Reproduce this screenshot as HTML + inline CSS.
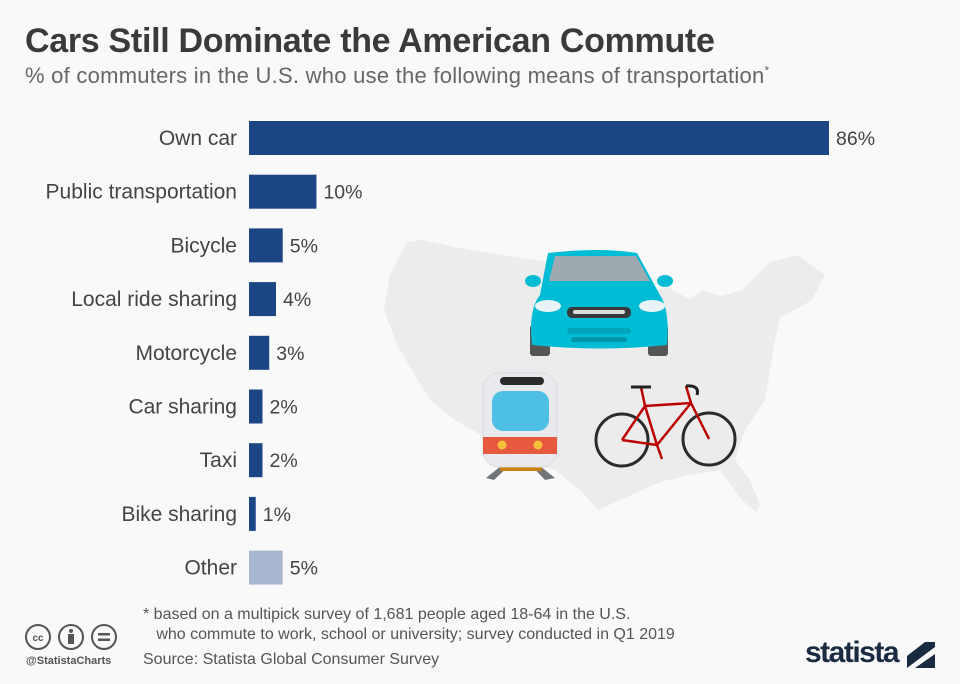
<!DOCTYPE html>
<html><head><meta charset="utf-8"><style>
body{margin:0;width:960px;height:684px;background:#f9f9f9;font-family:"Liberation Sans",sans-serif;overflow:hidden;position:relative}
#title{position:absolute;left:25px;top:22px;font-size:34px;font-weight:bold;color:#3a3a3a;margin:0;letter-spacing:-0.3px;white-space:nowrap}
#sub{position:absolute;left:25px;top:63px;font-size:22px;color:#666;white-space:nowrap;letter-spacing:0.25px}
.t{position:absolute;color:#444;white-space:nowrap}
</style></head><body>
<h1 id="title">Cars Still Dominate the American Commute</h1>
<div id="sub">% of commuters in the U.S. who use the following means of transportation<sup style="font-size:12px">*</sup></div>
<svg id="chart" width="960" height="684" style="position:absolute;left:0;top:0">
<g>
<path fill="#ececec" d="M407,242 L421,240 L470,250 L555,263 L600,270 L640,290 L670,288 L690,300 L702,290 L722,296 L742,290 L770,262 L798,255 L825,275 L812,300 L780,318 L775,340 L770,370 L765,400 L745,430 L735,460 L750,480 L760,505 L756,512 L742,500 L720,470 L690,475 L660,482 L620,500 L598,510 L580,490 L555,470 L520,460 L490,440 L455,420 L430,400 L397,345 L384,310 L390,275 Z"/>
<g>
<rect x="530" y="325" width="20" height="31" rx="3" fill="#555"/>
<rect x="648" y="325" width="20" height="31" rx="3" fill="#555"/>
<ellipse cx="533" cy="281" rx="8" ry="6" fill="#00bcd4"/><ellipse cx="665" cy="281" rx="8" ry="6" fill="#00bcd4"/>
<path d="M548,253 Q600,247 637,253 L660,295 Q670,310 667,345 Q600,352 532,345 Q528,310 540,295 Z" fill="#00bcd4"/>
<path d="M555,256 L636,256 L650,281 L549,281 Z" fill="#9fa9b0"/>
<ellipse cx="548" cy="306" rx="13" ry="6" fill="#e8f4f7"/><ellipse cx="652" cy="306" rx="13" ry="6" fill="#e8f4f7"/>
<rect x="567" y="307" width="64" height="11" rx="5" fill="#3a3a3a"/><rect x="573" y="310" width="52" height="4" rx="2" fill="#ddd"/>
<rect x="567" y="328" width="64" height="6" rx="3" fill="#00a5bb"/><rect x="571" y="337" width="56" height="5" rx="2" fill="#0097ab"/>
</g>
<g>
<path d="M486,478 L506,462 L513,462 L494,480 Z M555,478 L535,462 L528,462 L545,480 Z" fill="#70757c"/>
<rect x="500" y="467" width="42" height="4" fill="#c9820f"/>
<rect x="483" y="373" width="74" height="94" rx="16" fill="#e8eaee" stroke="#d6d9de"/>
<rect x="500" y="377" width="44" height="8" rx="4" fill="#2b2b2b"/>
<rect x="492" y="391" width="57" height="40" rx="11" fill="#4ec0e6"/>
<rect x="483" y="437" width="74" height="17" fill="#e85a40"/>
<circle cx="502" cy="445" r="4.5" fill="#f5c13b"/><circle cx="538" cy="445" r="4.5" fill="#f5c13b"/>
</g>
<g fill="none">
<circle cx="622" cy="440" r="26" stroke="#2b2b2b" stroke-width="3"/>
<circle cx="709" cy="439" r="26" stroke="#2b2b2b" stroke-width="3"/>
<path d="M622,440 L645,406 L691,403 L709,439 M622,440 L657,445 L691,403 M645,406 L657,445 L662,459 M641,387 L645,406 M686,386 L691,403" stroke="#b00" stroke-width="2.5"/>
<path d="M631,387 L651,387 M686,386 Q700,385 697,395" stroke="#222" stroke-width="3"/>
</g>
</g>
</svg>
<div class="t" style="left:143px;top:605px;font-size:16px;color:#555;line-height:20px">* based on a multipick survey of 1,681 people aged 18-64 in the U.S.<br>&nbsp;&nbsp;&nbsp;who commute to work, school or university; survey conducted in Q1 2019</div>
<div class="t" style="left:143px;top:651px;font-size:16px;color:#555">Source: Statista Global Consumer Survey</div>
<div class="t" style="left:26px;top:655px;font-size:11px;font-weight:bold;color:#555">@StatistaCharts</div>
<svg style="position:absolute;left:24px;top:623px" width="100" height="28">
<g fill="none" stroke="#555" stroke-width="2"><circle cx="14" cy="14" r="12"/><circle cx="47" cy="14" r="12"/><circle cx="80" cy="14" r="12"/></g>
<text x="14" y="18" font-size="10" font-weight="bold" text-anchor="middle" fill="#555" font-family="Liberation Sans">cc</text>
<circle cx="47" cy="8" r="2" fill="#555"/><rect x="44" y="11" width="6" height="10" fill="#555"/>
<rect x="74" y="10" width="12" height="2.5" fill="#555"/><rect x="74" y="15.5" width="12" height="2.5" fill="#555"/>
</svg>
<div class="t" style="left:805px;top:636px;font-size:30px;font-weight:bold;color:#1a2a40;letter-spacing:-1.5px">statista</div>
<svg style="position:absolute;left:907px;top:642px" width="28" height="26"><rect width="28" height="26" fill="#1a2a40"/><path d="M0,26 L28,5 L28,12 L8,26 Z M0,0 L18,0 L0,14 Z" fill="#f9f9f9"/></svg>
<script>
const categories=["Own car","Public transportation","Bicycle","Local ride sharing","Motorcycle","Car sharing","Taxi","Bike sharing","Other"];
const values=[86,10,5,4,3,2,2,1,5];
const valueLabels=["86%","10%","5%","4%","3%","2%","2%","1%","5%"];
const svg=document.getElementById('chart');
const NS='http://www.w3.org/2000/svg';
const x0=249,pxPer=580/86,yTop=121,step=53.7,bh=34;
const xs=v=>v*pxPer;
const yc=i=>yTop+i*step;
categories.forEach((c,i)=>{
  const r=document.createElementNS(NS,'rect');
  r.setAttribute('x',x0);r.setAttribute('y',yc(i));
  r.setAttribute('width',xs(values[i]));r.setAttribute('height',bh);
  r.setAttribute('fill',c==="Other"?"#a9b8d0":"#1b4584");
  
  
  svg.appendChild(r);
  const l=document.createElementNS(NS,'text');
  l.setAttribute('x',237);l.setAttribute('y',yc(i)+bh/2+7);
  l.setAttribute('text-anchor','end');l.setAttribute('font-size','21');l.setAttribute('fill','#444');
  l.setAttribute('font-family','Liberation Sans');
  l.textContent=c;
  
  
  svg.appendChild(l);
  const v=document.createElementNS(NS,'text');
  v.setAttribute('x',x0+xs(values[i])+7);v.setAttribute('y',yc(i)+bh/2+7);
  v.setAttribute('font-size','19.5');v.setAttribute('fill','#444');
  v.setAttribute('font-family','Liberation Sans');
  v.textContent=valueLabels[i];
  
  
  svg.appendChild(v);
});
</script>
</body></html>
